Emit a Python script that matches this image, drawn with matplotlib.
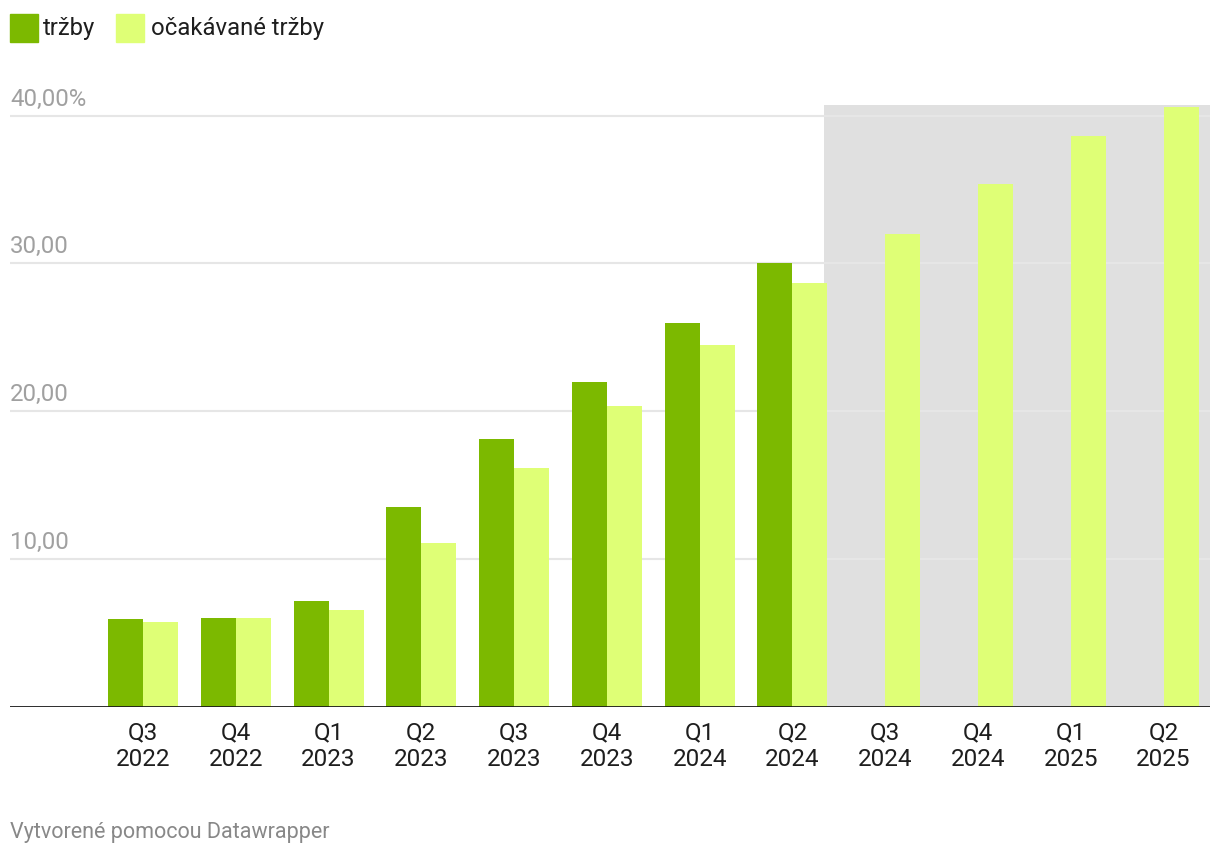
import matplotlib.pyplot as plt
from matplotlib.patches import Rectangle
import numpy as np

# Data
quarters = ["Q3\n2022", "Q4\n2022", "Q1\n2023", "Q2\n2023", "Q3\n2023", "Q4\n2023",
            "Q1\n2024", "Q2\n2024", "Q3\n2024", "Q4\n2024", "Q1\n2025", "Q2\n2025"]
trzby = [5.92, 5.99, 7.14, 13.5, 18.1, 22.0, 26.0, 30.0]
ocakavane = [5.72, 5.99, 6.53, 11.1, 16.15, 20.35, 24.5, 28.7, 32.0, 35.4, 38.6, 40.6]
y_ticks = [10, 20, 30, 40]
y_labels = ["10,00", "20,00", "30,00", "40,00%"]
legend_names = ["tržby", "očakávané tržby"]

dark = "#7cb900"
light = "#dfff76"

plt.rcParams["font.family"] = ["Roboto", "DejaVu Sans"]

W, H = 1220, 856
fig = plt.figure(figsize=(W / 100, H / 100), dpi=100)
ax = fig.add_axes([10 / W, (H - 706.5) / H, 1200 / W, 620.3 / H])

x = np.arange(len(quarters))
bw = 0.377

# forecast shading
ax.axvspan(7.34, 11.5, ymin=0, ymax=40.7 / 42, color="#e0e0e0", lw=0, zorder=0.5)

# gridlines + y labels
for v, lab in zip(y_ticks, y_labels):
    ax.axhline(v, color="#e6e6e6", lw=1.5, zorder=1)
    ax.text(-1.433, v + 0.68, lab, color="#a0a0a0", fontsize=17.3,
            ha="left", va="baseline")

ax.bar(x[:len(trzby)] - bw / 2, trzby, width=bw, color=dark, zorder=2)
ax.bar(x + bw / 2, ocakavane, width=bw, color=light, zorder=2)

ax.axhline(0, color="#1a1a1a", lw=2, zorder=3)

ax.set_xlim(-1.433, 11.5)
ax.set_ylim(0, 42)
ax.set_xticks(x)
ax.set_xticklabels(quarters, fontsize=17.5, color="#1e1e1e", linespacing=1.2)
ax.tick_params(axis="x", length=0, pad=11)
ax.set_yticks([])
for s in ax.spines.values():
    s.set_visible(False)

# legend
fig.patches.append(Rectangle((10 / W, 1 - 42 / H), 28 / W, 28 / H,
                             transform=fig.transFigure, color=dark))
fig.text(43 / W, 1 - 28 / H, legend_names[0], fontsize=17.2, color="#1e1e1e",
         va="center", ha="left")
fig.patches.append(Rectangle((116 / W, 1 - 42 / H), 28 / W, 28 / H,
                             transform=fig.transFigure, color=light))
fig.text(151 / W, 1 - 28 / H, legend_names[1], fontsize=17.2, color="#1e1e1e",
         va="center", ha="left")

# footer
fig.text(10 / W, 1 - 838 / H, "Vytvorené pomocou Datawrapper", fontsize=15.5,
         color="#888888", ha="left", va="baseline")

fig.savefig("out.png", dpi=100)
